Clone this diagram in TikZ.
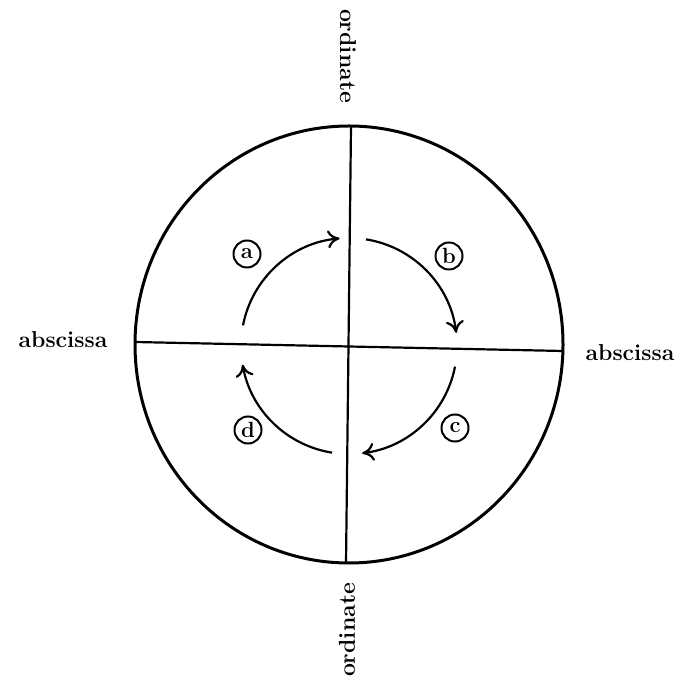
\documentclass[tikz,border=0pt]{standalone}
\usetikzlibrary{arrows.meta}
\begin{document}
\begin{tikzpicture}[x=0.5pt,y=0.5pt,
  lbl/.style={font=\fontsize{11.5}{14}\selectfont\bfseries, inner sep=0pt},
  tag/.style={draw, circle, line width=1pt, minimum size=13.5pt, inner sep=0pt, font=\fontsize{11}{13}\selectfont\bfseries},
  axis/.style={line width=1.1pt},
  rim/.style={line width=1.5pt},
  turn/.style={line width=1.1pt, -{To[length=6pt,width=9pt]}}]
\useasboundingbox (0,0) rectangle (688,684);
% rim
\draw[rim] (349,339.5) ellipse [x radius=214, y radius=218.5];
% axes
\coordinate (L) at (135,342);
\coordinate (R) at (563,333);
\coordinate (T) at (351,558);
\coordinate (B) at (346,121);
\draw[axis] (L) -- (R);
\draw[axis] (T) -- (B);
% labels
\node[lbl] (absL) at (63,344) {abscissa};
\node[lbl] (absR) at (630,331) {abscissa};
\node[lbl, rotate=-90] (ordT) at (348,628) {ordinate};
\node[lbl, rotate=90] (ordB) at (347,54) {ordinate};
% rotation arrows
\coordinate (C) at (349,338);
\draw[turn] (C) ++(169:108) arc[start angle=169, end angle=95, radius=108];
\draw[turn] (C) ++(81:108) arc[start angle=81, end angle=7, radius=108];
\draw[turn] (C) ++(-11:108) arc[start angle=-11, end angle=-83, radius=108];
\draw[turn] (C) ++(-99:108) arc[start angle=-99, end angle=-170, radius=108];
% tags
\node[tag] (ta) at (247,430) {a};
\node[tag] (tb) at (449,428) {b};
\node[tag] (tc) at (455,256) {c};
\node[tag] (td) at (248,254) {d};
\end{tikzpicture}
\end{document}
